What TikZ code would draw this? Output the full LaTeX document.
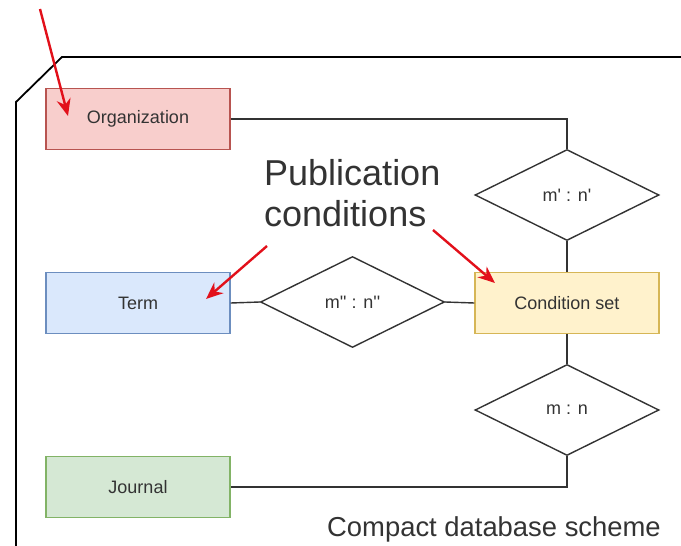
\documentclass[tikz,border=0pt]{standalone}
\usepackage{fontspec}
\setmainfont{Liberation Sans}
\usetikzlibrary{arrows.meta,positioning,shapes.geometric}

\definecolor{txtgray}{HTML}{333333}
\definecolor{orgfill}{HTML}{F8CECC}
\definecolor{orgdraw}{HTML}{B85450}
\definecolor{termfill}{HTML}{DAE8FC}
\definecolor{termdraw}{HTML}{6C8EBF}
\definecolor{jourfill}{HTML}{D5E8D4}
\definecolor{jourdraw}{HTML}{82B366}
\definecolor{condfill}{HTML}{FFF2CC}
\definecolor{conddraw}{HTML}{D6B656}
\definecolor{markred}{HTML}{E2101A}

\newcommand{\sq}{\textquotesingle}

\begin{document}
\begin{tikzpicture}[
          x=1pt, y=-1pt,
          box/.style  = {draw, line width=1.4pt, minimum width=184pt, minimum height=61pt,
                         align=center, text=txtgray, font=\fontsize{18}{21}\selectfont},
          rel/.style  = {diamond, draw=black!80, line width=1.4pt, minimum width=184pt,
                         minimum height=91pt, inner sep=0pt, shape aspect=2,
                         text=txtgray, font=\fontsize{18}{21}\selectfont},
          wire/.style = {draw=black!80, line width=1.4pt},
          pointer/.style = {draw=markred, line width=2.4pt, -{Stealth[length=17pt, width=14pt]}}
        ]
        \useasboundingbox (0,0) rectangle (681,546);

        % --- blocks
        \node[box, fill=orgfill,  draw=orgdraw]  (org)  at (138,119) {Organization};
        \node[box, fill=termfill, draw=termdraw] (term) at (138,303) {Term};
        \node[box, fill=jourfill, draw=jourdraw] (jour) at (138,487) {Journal};
        \node[box, fill=condfill, draw=conddraw] (cond) at (567,303) {Condition set};

        % --- relations
        \node[rel] (relA) at (567,195)   {m\sq{} : n\sq};
        \node[rel] (relB) at (352.5,302) {m\sq\sq{} : n\sq\sq};
        \node[rel] (relC) at (567,410)   {m : n};

        % --- wiring
        \draw[wire] (org.east) -| (relA.north);
        \draw[wire] (relA.south) -- (cond.north);
        \draw[wire] (term.east) -- (relB.west);
        \draw[wire] (relB.east) -- (cond.west);
        \draw[wire] (cond.south) -- (relC.north);
        \draw[wire] (relC.south) |- (jour.east);

        % --- outer frame (cut off by the page)
        \coordinate (FrameBL) at (16,560);
        \coordinate (FrameCL) at (16,102);
        \coordinate (FrameCT) at (62,57);
        \coordinate (FrameTR) at (700,57);
        \draw[line width=1.8pt] (FrameBL) -- (FrameCL) -- (FrameCT) -- (FrameTR);

        % --- captions
        \node[anchor=north west, inner sep=0pt, align=left, text=txtgray,
              font=\fontsize{36}{41}\selectfont] (pub) at (264,159) {Publication\\conditions};
        \node[anchor=base west, inner sep=0pt, text=txtgray,
              font=\fontsize{27.4}{32}\selectfont] (cap) at (327,536) {Compact database scheme};

        % --- red pointers
        \coordinate (MarkTop)  at (40,9);
        \coordinate (MarkOrg)  at (68,116);
        \coordinate (MarkL)    at (267,246);
        \coordinate (MarkTerm) at (206,299);
        \coordinate (MarkR)    at (433,230);
        \coordinate (MarkCond) at (495,283);
        \draw[pointer] (MarkTop) -- (MarkOrg);
        \draw[pointer] (MarkL) -- (MarkTerm);
        \draw[pointer] (MarkR) -- (MarkCond);
    \end{tikzpicture}
\end{document}
